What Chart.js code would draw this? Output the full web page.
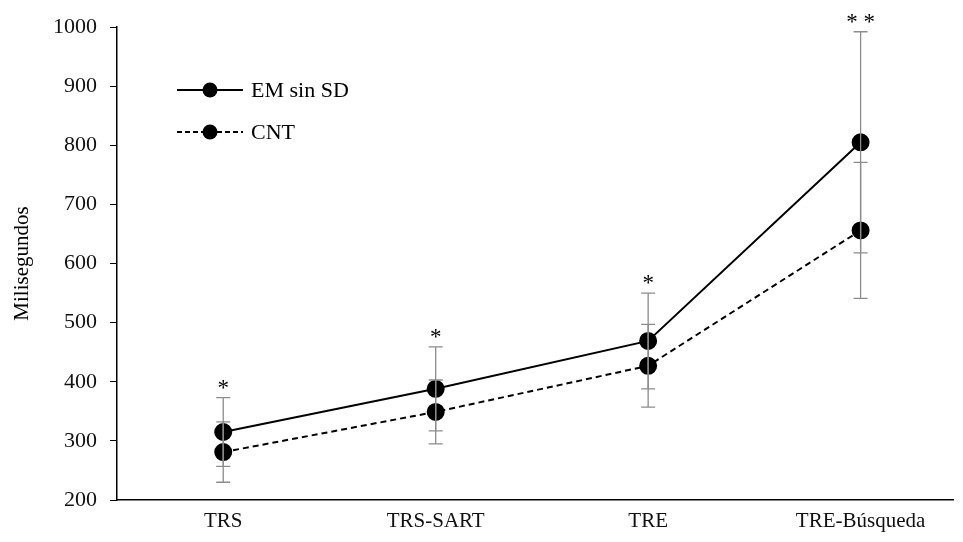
<!DOCTYPE html>
<html><head><meta charset="utf-8">
<script src="https://cdn.jsdelivr.net/npm/chart.js@4"></script>
<style>html,body{margin:0;padding:0;background:#fff}#c{display:block}</style>
</head><body>
<canvas id="c" width="963" height="542"></canvas>
<script>
const categories = ['TRS', 'TRS-SART', 'TRE', 'TRE-Búsqueda'];
const emValues = [315, 388, 469, 805];
const emSD = [58, 71, 81, 187];
const cntValues = [281, 349, 427, 656];
const cntSD = [51, 54, 70, 115];
const significance = ['*', '*', '*', '**'];
const yTicks = [200, 300, 400, 500, 600, 700, 800, 900, 1000];

const FONT = "'Liberation Serif', 'Times New Roman', serif";

const errorBars = {
  id: 'errorBars',
  afterDatasetsDraw(chart) {
    const ctx = chart.ctx, xs = chart.scales.x, ys = chart.scales.y;
    const sets = [[emValues, emSD], [cntValues, cntSD]];
    ctx.save();
    ctx.strokeStyle = '#8c8c8c';
    ctx.lineWidth = 1.3;
    sets.forEach(([vals, sds]) => {
      vals.forEach((v, i) => {
        const x = xs.getPixelForValue(i);
        const t = ys.getPixelForValue(v + sds[i]);
        const b = ys.getPixelForValue(v - sds[i]);
        ctx.beginPath();
        ctx.moveTo(x, t); ctx.lineTo(x, b);
        ctx.moveTo(x - 7, t); ctx.lineTo(x + 7, t);
        ctx.moveTo(x - 7, b); ctx.lineTo(x + 7, b);
        ctx.stroke();
      });
    });
    ctx.fillStyle = '#000';
    ctx.font = '23px ' + FONT;
    ctx.textAlign = 'center';
    ctx.textBaseline = 'alphabetic';
    significance.forEach((s, i) => {
      const top = Math.max(emValues[i] + emSD[i], cntValues[i] + cntSD[i]);
      const x = xs.getPixelForValue(i);
      const y = ys.getPixelForValue(top);
      ctx.fillText(s.split('').join(' '), x, y - 3);
    });
    ctx.restore();
  }
};

const legendPlugin = {
  id: 'customLegend',
  afterDraw(chart) {
    const ctx = chart.ctx;
    const items = [
      {label: 'EM sin SD', dash: [], y: 90},
      {label: 'CNT', dash: [5, 3], y: 132}
    ];
    ctx.save();
    items.forEach(it => {
      ctx.strokeStyle = '#000';
      ctx.lineWidth = 2;
      ctx.setLineDash(it.dash);
      ctx.beginPath(); ctx.moveTo(177, it.y); ctx.lineTo(243, it.y); ctx.stroke();
      ctx.setLineDash([]);
      ctx.beginPath(); ctx.arc(210, it.y, 7.5, 0, Math.PI * 2); ctx.fillStyle = '#000'; ctx.fill();
      ctx.font = '22px ' + FONT;
      ctx.textBaseline = 'middle';
      ctx.textAlign = 'left';
      ctx.fillText(it.label, 251, it.y + 1);
    });
    ctx.restore();
  }
};

new Chart(document.getElementById('c'), {
  type: 'line',
  data: {
    datasets: [
      {
        label: 'EM sin SD',
        data: emValues.map((v, i) => ({x: i, y: v})),
        borderColor: '#000', backgroundColor: '#000',
        borderWidth: 2, pointRadius: 8, pointHoverRadius: 8,
        pointBackgroundColor: '#000', pointBorderColor: '#000',
        tension: 0
      },
      {
        label: 'CNT',
        data: cntValues.map((v, i) => ({x: i, y: v})),
        borderColor: '#000', backgroundColor: '#000',
        borderWidth: 2, borderDash: [6, 4], pointRadius: 8, pointHoverRadius: 8,
        pointBackgroundColor: '#000', pointBorderColor: '#000',
        tension: 0
      }
    ]
  },
  options: {
    responsive: false,
    animation: false,
    layout: {padding: {top: 27, right: 0, left: 0, bottom: 0}},
    plugins: {legend: {display: false}, tooltip: {enabled: false}},
    scales: {
      x: {
        type: 'linear',
        min: -0.5,
        max: (963 - 117) / 215 - 0.5,
        afterBuildTicks(s) { s.ticks = categories.map((c, i) => ({value: i})); },
        afterFit(s) { s.height = 42; },
        grid: {display: false, drawTicks: false},
        border: {display: true, color: '#000', width: 1.5},
        ticks: {
          callback: (v) => categories[v],
          color: '#111', font: {family: FONT, size: 21}, padding: 9,
          maxRotation: 0, autoSkip: false
        }
      },
      y: {
        min: 200, max: 1000,
        afterBuildTicks(s) { s.ticks = yTicks.map(v => ({value: v})); },
        afterFit(s) { s.width = 117; },
        grid: {display: true, drawOnChartArea: false, drawTicks: true, tickLength: 7, color: '#000'},
        border: {display: true, color: '#000', width: 1.5},
        title: {display: true, text: 'Milisegundos', color: '#000', font: {family: FONT, size: 21}, padding: {top: 10, bottom: 0}},
        ticks: {callback: (v) => String(v), color: '#111', font: {family: FONT, size: 22}, padding: 13}
      }
    }
  },
  plugins: [errorBars, legendPlugin]
});
</script>
</body></html>
